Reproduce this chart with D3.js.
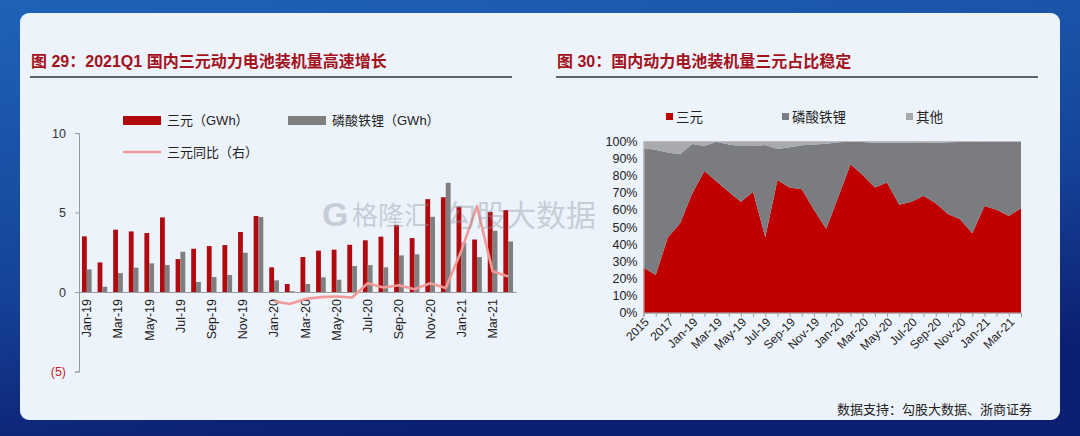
<!DOCTYPE html>
<html lang="zh">
<head>
<meta charset="UTF-8" />
<title>三元动力电池装机量</title>
<script src="https://d3js.org/d3.v7.min.js"></script>
<style>
  html, body { margin: 0; padding: 0; background: #0d2274; }
  svg { display: block; }
  text { font-family: "Liberation Sans", Arial, "Noto Sans CJK SC", sans-serif; }
  .cjk { font-family: "Liberation Sans", "Noto Sans CJK SC", sans-serif; }
</style>
</head>
<body>
<svg id="page"></svg>
<script>
// ---- left chart data (GWh, yoy as ratio on same axis) ----
const months = ["Jan-19","Feb-19","Mar-19","Apr-19","May-19","Jun-19","Jul-19","Aug-19","Sep-19","Oct-19","Nov-19","Dec-19",
  "Jan-20","Feb-20","Mar-20","Apr-20","May-20","Jun-20","Jul-20","Aug-20","Sep-20","Oct-20","Nov-20","Dec-20",
  "Jan-21","Feb-21","Mar-21","Apr-21"];
const ternary = [3.5,1.86,3.92,3.81,3.71,4.69,2.07,2.72,2.89,2.95,3.77,4.78,
  1.55,0.5,2.2,2.6,2.66,2.97,3.25,3.48,4.22,3.39,5.84,5.96,
  5.37,3.3,5.04,5.15];
const lfp = [1.42,0.33,1.19,1.53,1.8,1.7,2.53,0.63,0.94,1.07,2.47,4.72,
  0.73,0.05,0.5,0.92,0.77,1.63,1.69,1.55,2.3,2.37,4.73,6.87,
  3.1,2.2,3.85,3.18];
// yoy only exists from Jan-20
const yoyMonths = months.slice(12);
const ternaryYoy = [-0.58,-0.75,-0.44,-0.32,-0.28,-0.35,0.55,0.28,0.42,0.17,0.55,0.25,
  2.6,5.4,1.3,0.98];
const leftTicks = [10,5,0,-5];

// ---- right chart data (share, %) ----
const periods = ["2015","2016","2017","2018"].concat(months);
const shareTernary = [26.3,22,44,52,69.6,82.7,76.5,70.6,64.8,70.6,44,77.4,73,72,60,49,
  67.7,86.6,80.4,73,76,63,64.8,68.3,63.8,57.6,54.5,46.3,62.3,60,56.4,61];
const shareTop = [96,95,93.5,92.4,98.4,97.3,99.8,98.2,97.3,97.3,97.8,95.5,96.5,97.7,98.2,98.6,
  99.4,99.8,99.6,99.2,99.2,99.2,99.2,99,99.2,99.4,99.6,99.6,99.8,99.8,99.8,99.8];
const shareLfp = shareTop.map((t, i) => +(t - shareTernary[i]).toFixed(1));
const shareOther = shareTop.map(t => +(100 - t).toFixed(1));
const rightTicks = d3.range(0, 101, 10);

const W = 1080, H = 436;
const svg = d3.select("#page").attr("width", W).attr("height", H);

// background
const defs = svg.append("defs");
const bg = defs.append("linearGradient").attr("id", "bg")
  .attr("x1", "0").attr("y1", "0").attr("x2", "0.3").attr("y2", "1");
bg.append("stop").attr("offset", "0").attr("stop-color", "#1e63b8");
bg.append("stop").attr("offset", "0.6").attr("stop-color", "#15449a");
bg.append("stop").attr("offset", "1").attr("stop-color", "#0c1f70");
svg.append("rect").attr("width", W).attr("height", H).attr("fill", "url(#bg)");
svg.append("rect").attr("x", 20).attr("y", 13).attr("width", 1040).attr("height", 407)
  .attr("rx", 9).attr("fill", "#edf3fb");

// titles
const darkRed = "#a3121c";
function title(x, x2, txt) {
  svg.append("text").attr("class", "cjk").attr("x", x).attr("y", 67)
    .attr("font-size", 16).attr("font-weight", "bold").attr("fill", darkRed).text(txt);
  svg.append("line").attr("x1", x - 1).attr("x2", x2).attr("y1", 77).attr("y2", 77)
    .attr("stroke", "#333").attr("stroke-width", 1.4);
}
title(31, 512, "图 29：2021Q1 国内三元动力电池装机量高速增长");
title(557, 1038, "图 30：国内动力电池装机量三元占比稳定");

// ================= left chart =================
const redBar = "#b00a0f", grayBar = "#7f7f7f", pink = "#f29a98";
const x0 = d3.scaleBand().domain(months).range([79, 516]).paddingInner(0.38).paddingOuter(0.19);
const x1 = d3.scaleBand().domain(["t", "l"]).range([0, x0.bandwidth()]);
const yL = d3.scaleLinear().domain([-5, 10]).range([371.5, 133]);

const gL = svg.append("g");
const yAxisL = gL.append("g").attr("transform", "translate(79,0)")
  .call(d3.axisLeft(yL).tickValues(leftTicks).tickSize(4).tickPadding(9)
    .tickFormat(d => d < 0 ? `(${-d})` : d));
yAxisL.select(".domain").attr("stroke", "#999");
yAxisL.selectAll(".tick line").attr("stroke", "#999");
yAxisL.selectAll(".tick text").attr("font-size", 12.5)
  .attr("fill", d => d < 0 ? "#c0262d" : "#333");

const grp = gL.selectAll(".grp").data(months).join("g")
  .attr("transform", d => `translate(${x0(d)},0)`);
grp.append("rect").attr("x", x1("t")).attr("width", x1.bandwidth())
  .attr("y", (d, i) => yL(ternary[i])).attr("height", (d, i) => yL(0) - yL(ternary[i]))
  .attr("fill", redBar);
grp.append("rect").attr("x", x1("l")).attr("width", x1.bandwidth())
  .attr("y", (d, i) => yL(lfp[i])).attr("height", (d, i) => yL(0) - yL(lfp[i]))
  .attr("fill", grayBar);

// baseline axis
const xAxisL = gL.append("g").attr("transform", `translate(0,${yL(0)})`)
  .call(d3.axisBottom(x0).tickValues(months.filter((d, i) => i % 2 === 0)).tickSize(0).tickPadding(0));
xAxisL.select(".domain").attr("stroke", "#999");
xAxisL.selectAll(".tick text").attr("font-size", 12.5).attr("fill", "#222")
  .attr("text-anchor", "end").attr("transform", "rotate(-90)")
  .attr("x", -7).attr("y", 0).attr("dy", "0.35em");

// yoy line
const line = d3.line().x((d, i) => x0(yoyMonths[i]) + x0.bandwidth() / 2).y(d => yL(d));
gL.append("path").datum(ternaryYoy).attr("d", line).attr("fill", "none")
  .attr("stroke", pink).attr("stroke-width", 2.6).attr("stroke-linejoin", "round");

// left legend
const lg = gL.append("g").attr("font-size", 13).attr("fill", "#222").attr("class", "cjk");
lg.append("rect").attr("x", 123).attr("y", 116).attr("width", 38).attr("height", 9).attr("fill", redBar);
lg.append("text").attr("x", 167).attr("y", 125).text("三元（GWh）");
lg.append("rect").attr("x", 288).attr("y", 116).attr("width", 38).attr("height", 9).attr("fill", grayBar);
lg.append("text").attr("x", 332).attr("y", 125).text("磷酸铁锂（GWh）");
lg.append("line").attr("x1", 123).attr("x2", 161).attr("y1", 152).attr("y2", 152)
  .attr("stroke", pink).attr("stroke-width", 2.6);
lg.append("text").attr("x", 167).attr("y", 157).text("三元同比（右）");

// ================= right chart =================
const cRed = "#c00000", cGray = "#7a7c80", cLight = "#a8aaad";
const xR = d3.scalePoint().domain(periods).range([643.5, 1021]);
const yR = d3.scaleLinear().domain([0, 100]).range([312.7, 141.3]);
const table = periods.map((p, i) => ({ p, t: shareTernary[i], l: shareLfp[i], o: shareOther[i] }));
const stack = d3.stack().keys(["t", "l", "o"])(table);
const area = d3.area().x(d => xR(d.data.p)).y0(d => yR(d[0])).y1(d => yR(d[1]));
const gR = svg.append("g");
gR.selectAll(".layer").data(stack).join("path")
  .attr("d", area).attr("fill", (d, i) => [cRed, cGray, cLight][i]);

const yAxisR = gR.append("g").attr("transform", "translate(643.5,0)")
  .call(d3.axisLeft(yR).tickValues(rightTicks).tickSize(0).tickPadding(6).tickFormat(d => d + "%"));
yAxisR.select(".domain").attr("stroke", "#bbb");
yAxisR.selectAll(".tick text").attr("font-size", 12.5).attr("fill", "#222");

const xAxisR = gR.append("g").attr("transform", `translate(0,${yR(0)})`)
  .call(d3.axisBottom(xR).tickSize(4).tickPadding(2)
    .tickFormat((d, i) => i % 2 === 0 ? d : ""));
xAxisR.select(".domain").attr("stroke", "#999");
xAxisR.selectAll(".tick line").attr("stroke", "#999");
xAxisR.selectAll(".tick text").attr("font-size", 12).attr("fill", "#222")
  .attr("text-anchor", "end").attr("transform", "rotate(-45)")
  .attr("x", -3).attr("y", 7).attr("dy", "0.35em");

// right legend
const rg = gR.append("g").attr("font-size", 13.5).attr("fill", "#222").attr("class", "cjk");
[["三元", cRed, 666], ["磷酸铁锂", cGray, 782], ["其他", cLight, 906]].forEach(([t, c, x]) => {
  rg.append("rect").attr("x", x).attr("y", 113).attr("width", 7).attr("height", 7).attr("fill", c);
  rg.append("text").attr("x", x + 10).attr("y", 122).text(t);
});

// watermark, kept clear of the right chart's tick labels
const wm = svg.append("g").attr("fill", "#8e97a3").attr("opacity", 0.4).attr("class", "cjk");
wm.append("text").attr("x", 322).attr("y", 226).attr("font-size", 34).attr("font-weight", "bold").text("G");
wm.append("text").attr("x", 352).attr("y", 225).attr("font-size", 26).text("格隆汇");
wm.append("text").attr("x", 446).attr("y", 226).attr("font-size", 30).text("勾股大数据");

// source
svg.append("text").attr("class", "cjk").attr("x", 1032).attr("y", 414)
  .attr("text-anchor", "end").attr("font-size", 13).attr("fill", "#222")
  .text("数据支持：勾股大数据、浙商证券");
</script>
</body>
</html>
